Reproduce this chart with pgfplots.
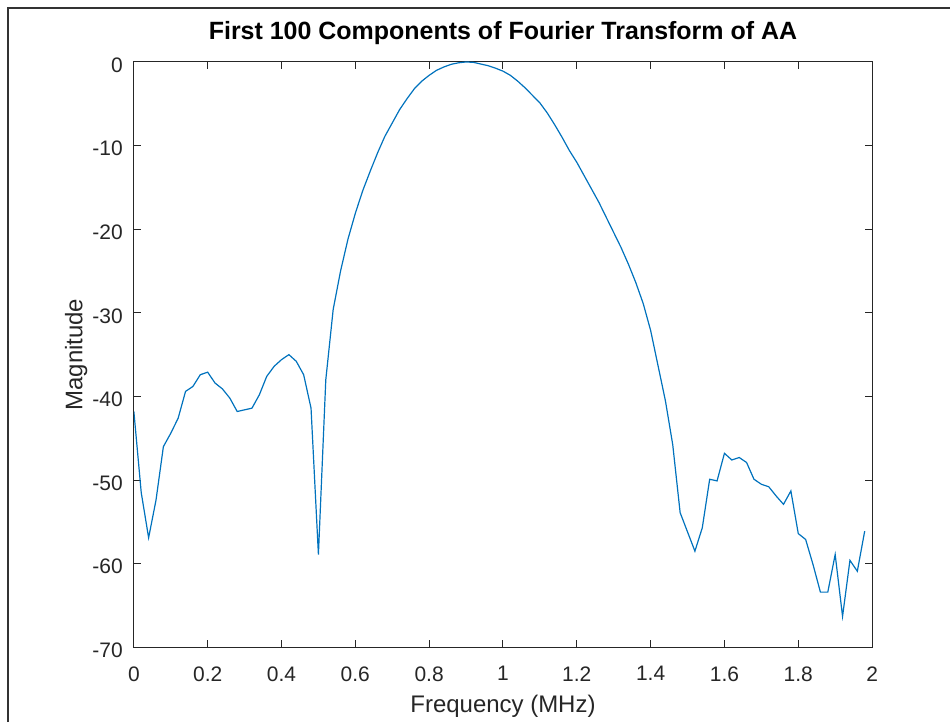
\documentclass[border=0pt]{standalone}
\usepackage{pgfplots}
\pgfplotsset{compat=1.18}
\usepackage{pgfplotstable}
\usepackage{fontspec}
\setmainfont{Liberation Sans}

\definecolor{mblue}{rgb}{0,0.447,0.741}
\definecolor{mgray}{rgb}{0.15,0.15,0.15}

% magnitude (dB) of the first 100 FFT bins, step 0.02 MHz
\pgfplotstableread{
f     mag
0.00  -41.8
0.02  -51.5
0.04  -56.9
0.06  -52.4
0.08  -46.0
0.10  -44.4
0.12  -42.6
0.14  -39.4
0.16  -38.8
0.18  -37.4
0.20  -37.1
0.22  -38.4
0.24  -39.1
0.26  -40.2
0.28  -41.8
0.30  -41.6
0.32  -41.4
0.34  -39.8
0.36  -37.6
0.38  -36.4
0.40  -35.6
0.42  -35.0
0.44  -35.8
0.46  -37.4
0.48  -41.4
0.50  -58.9
0.52  -38.0
0.54  -29.6
0.56  -25.0
0.58  -21.2
0.60  -18.1
0.62  -15.4
0.64  -13.1
0.66  -10.9
0.68  -8.9
0.70  -7.3
0.72  -5.7
0.74  -4.4
0.76  -3.2
0.78  -2.3
0.80  -1.6
0.82  -1.0
0.84  -0.6
0.86  -0.28
0.88  -0.1
0.90  0.0
0.92  -0.05
0.94  -0.25
0.96  -0.45
0.98  -0.75
1.00  -1.1
1.02  -1.6
1.04  -2.3
1.06  -3.1
1.08  -4.0
1.10  -4.9
1.12  -6.1
1.14  -7.5
1.16  -9.0
1.18  -10.6
1.20  -12.0
1.22  -13.6
1.24  -15.2
1.26  -16.8
1.28  -18.6
1.30  -20.4
1.32  -22.2
1.34  -24.2
1.36  -26.4
1.38  -28.9
1.40  -32.1
1.42  -36.3
1.44  -40.5
1.46  -45.8
1.48  -53.9
1.50  -56.2
1.52  -58.5
1.54  -55.7
1.56  -49.9
1.58  -50.1
1.60  -46.8
1.62  -47.6
1.64  -47.3
1.66  -47.9
1.68  -49.9
1.70  -50.5
1.72  -50.8
1.74  -51.9
1.76  -52.9
1.78  -51.3
1.80  -56.4
1.82  -57.1
1.84  -60.1
1.86  -63.4
1.88  -63.4
1.90  -58.9
1.92  -66.3
1.94  -59.6
1.96  -60.9
1.98  -56.1
}\fftdata

\begin{document}
\begin{tikzpicture}
\begin{axis}[
    at={(0,0)}, anchor=south west,
    scale only axis,
    width=369.5pt, height=293pt,
    xmin=0, xmax=2, ymin=-70, ymax=0,
    xtick={0,0.2,...,2.01},
    ytick={-70,-60,...,0},
    tick align=inside,
    major tick length=3.5pt,
    axis line style={mgray, line width=0.5pt},
    tick style={mgray, line width=0.5pt},
    ticklabel style={font=\fontsize{10.5}{12}\selectfont, text=mgray},
    xticklabel shift=6pt,
    yticklabel shift=2pt,
    yticklabel style={yshift=-1.5pt},
    /pgf/number format/assume math mode=true,
    title={\textbf{First 100 Components of Fourier Transform of AA}},
    title style={font=\fontsize{12.5}{14}\selectfont, yshift=-1pt},
    xlabel={Frequency (MHz)},
    ylabel={Magnitude},
    label style={font=\fontsize{12}{14}\selectfont, text=mgray},
    xlabel style={at={(axis description cs:0.5,-0.1)}, anchor=center},
    ylabel style={at={(axis description cs:-0.078,0.5)}, anchor=center},
]
\addplot[mblue, line width=0.6pt, no markers, sharp plot] table[x=f, y=mag] {\fftdata};
\end{axis}
\pgfresetboundingbox
\draw[line width=1pt, black!80] (-63pt,-37.5pt) -- (-63pt,320pt) -- (408.5pt,320pt);
\useasboundingbox (-67pt,-37.5pt) rectangle (408.5pt,324pt);
\end{tikzpicture}
\end{document}
